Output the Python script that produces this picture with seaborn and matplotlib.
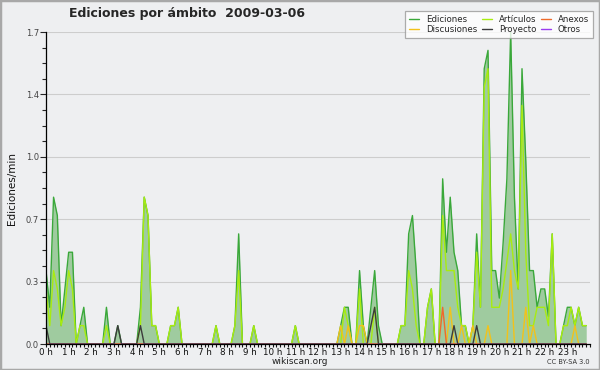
import numpy as np
import pandas as pd
import matplotlib
matplotlib.use("Agg")
import matplotlib.pyplot as plt
from matplotlib.patches import Rectangle
from matplotlib.ticker import MultipleLocator, FixedLocator
import seaborn as sns

# ---- data: edits per minute, one value per 10-minute slot (144 slots) ----
n_slots = 144
ediciones_pts = {0: 0.4, 1: 0.2, 2: 0.8, 3: 0.7, 4: 0.1, 5: 0.3, 6: 0.5, 7: 0.5, 9: 0.1, 10: 0.2,
                 16: 0.2, 19: 0.1, 25: 0.2, 26: 0.8, 27: 0.7, 28: 0.1, 29: 0.1, 33: 0.1, 34: 0.1,
                 35: 0.2, 45: 0.1, 50: 0.1, 51: 0.6, 55: 0.1, 66: 0.1, 78: 0.1, 79: 0.2, 80: 0.2,
                 83: 0.4, 84: 0.1, 86: 0.2, 87: 0.4, 88: 0.1, 94: 0.1, 95: 0.1, 96: 0.6, 97: 0.7,
                 98: 0.4, 101: 0.2, 102: 0.3, 105: 0.9, 106: 0.5, 107: 0.8, 108: 0.5, 109: 0.4,
                 110: 0.1, 111: 0.1, 113: 0.1, 114: 0.6, 115: 0.2, 116: 1.5, 117: 1.6, 118: 0.4,
                 119: 0.4, 120: 0.25, 121: 0.55, 122: 0.9, 123: 1.7, 124: 0.8, 125: 0.3, 126: 1.5,
                 127: 1.0, 128: 0.4, 129: 0.4, 130: 0.2, 131: 0.3, 132: 0.3, 133: 0.15, 134: 0.6,
                 137: 0.1, 138: 0.2, 139: 0.2, 140: 0.1, 141: 0.2, 142: 0.1, 143: 0.1}
articulos_pts = {0: 0.3, 1: 0.1, 2: 0.4, 3: 0.3, 4: 0.1, 5: 0.2, 6: 0.4, 7: 0.3, 9: 0.1, 10: 0.1,
                 16: 0.1, 25: 0.1, 26: 0.8, 27: 0.7, 28: 0.1, 29: 0.1, 33: 0.1, 34: 0.1, 35: 0.2,
                 45: 0.1, 50: 0.1, 51: 0.4, 55: 0.1, 66: 0.1, 79: 0.2, 80: 0.1, 83: 0.3, 87: 0.2,
                 94: 0.1, 95: 0.1, 96: 0.4, 97: 0.3, 98: 0.1, 101: 0.2, 102: 0.3, 105: 0.7,
                 106: 0.4, 107: 0.4, 108: 0.4, 109: 0.2, 110: 0.1, 111: 0.1, 113: 0.1, 114: 0.5,
                 115: 0.2, 116: 1.4, 117: 1.5, 118: 0.2, 119: 0.2, 120: 0.2, 121: 0.3, 122: 0.45,
                 123: 0.6, 124: 0.4, 125: 0.3, 126: 1.3, 127: 0.5, 128: 0.1, 129: 0.1, 130: 0.2,
                 131: 0.2, 132: 0.2, 133: 0.1, 134: 0.6, 137: 0.1, 138: 0.1, 139: 0.2, 140: 0.1,
                 141: 0.2, 142: 0.1, 143: 0.1}
discusiones_pts = {78: 0.1, 80: 0.1, 83: 0.1, 84: 0.1, 107: 0.2, 110: 0.1, 113: 0.1, 117: 0.1,
                   123: 0.4, 127: 0.2, 129: 0.1, 140: 0.1}
anexos_pts = {105: 0.2}
proyecto_pts = {0: 0.1, 19: 0.1, 25: 0.1, 86: 0.1, 87: 0.2, 108: 0.1, 114: 0.1}
otros_pts = {}

hour_labels = [f"{h} h" for h in range(24)]
y_ticks = [0.0, 0.34, 0.68, 1.02, 1.36, 1.7]
y_tick_labels = ["0.0", "0.3", "0.7", "1.0", "1.4", "1.7"]

series_names = ["Ediciones", "Discusiones", "Artículos", "Proyecto", "Anexos", "Otros"]
series_pts = [ediciones_pts, discusiones_pts, articulos_pts, proyecto_pts, anexos_pts, otros_pts]
colors = {"Ediciones": "#3aa83a", "Artículos": "#a8ec10", "Discusiones": "#f2c21a",
          "Anexos": "#ee6a2a", "Proyecto": "#3c3c3c", "Otros": "#9a3cf0"}

def expand(pts):
    arr = np.zeros(n_slots)
    for k, v in pts.items():
        arr[k] = v
    return arr

hours = np.arange(n_slots) / 6.0
df = pd.DataFrame({"hora": hours})
for name, pts in zip(series_names, series_pts):
    df[name] = expand(pts)

# ---- style ----
bg = "#eeeff1"
sns.set_style("ticks", {"axes.facecolor": bg, "figure.facecolor": bg})
plt.rcParams["font.family"] = ["DejaVu Sans"]

fig = plt.figure(figsize=(6.0, 3.7), dpi=100)
ax = fig.add_axes([46 / 600, 1 - 344 / 370, 544 / 600, 312 / 370])
ax.set_facecolor(bg)

ax.fill_between(df["hora"], 0, df["Ediciones"], color="#9fcb9f", lw=0, zorder=1)
draw_order = ["Ediciones", "Artículos", "Discusiones", "Anexos", "Proyecto", "Otros"]
for name in draw_order:
    sns.lineplot(data=df, x="hora", y=name, ax=ax, color=colors[name], lw=1.0,
                 label=name, legend=False, zorder=2)

ax.set_xlim(0, 24)
ax.set_ylim(0, 1.7)
ax.xaxis.set_major_locator(FixedLocator(range(24)))
ax.set_xticklabels(hour_labels)
ax.xaxis.set_minor_locator(MultipleLocator(1 / 6))
ax.yaxis.set_major_locator(FixedLocator(y_ticks))
ax.set_yticklabels(y_tick_labels)
ax.yaxis.set_minor_locator(MultipleLocator(0.085))
ax.tick_params(axis="x", which="both", length=2.3, width=0.8, direction="out",
               labelsize=6.3, pad=0.8, colors="#111111")
ax.tick_params(axis="y", which="major", length=4, width=0.8, labelsize=6, pad=1,
               labelcolor="#444444")
ax.tick_params(axis="y", which="minor", length=3, width=0.8)
ax.grid(axis="y", which="major", color="#cdcdcd", lw=0.8, zorder=0)
ax.set_axisbelow(True)
for s in ["top", "right"]:
    ax.spines[s].set_visible(False)
for s in ["left", "bottom"]:
    ax.spines[s].set_color("black")
    ax.spines[s].set_linewidth(0.9)
ax.set_xlabel("")
ax.set_ylabel("Ediciones/min", fontsize=7.5, labelpad=6, color="#111111")

fig.text(187 / 600, 1 - 14 / 370, "Ediciones por ámbito  2009-03-06", fontsize=9,
         fontweight="bold", ha="center", va="center")

handles, labels = ax.get_legend_handles_labels()
hmap = dict(zip(labels, handles))
leg = fig.legend([hmap[n] for n in series_names], series_names, ncol=3,
                 loc="upper right", bbox_to_anchor=(593 / 600, 1 - 11 / 370),
                 fontsize=6.2, frameon=True, fancybox=False, handlelength=1.2,
                 handletextpad=0.8, columnspacing=0.5, labelspacing=0.1,
                 borderpad=0.45, borderaxespad=0)
leg.get_frame().set_facecolor("white")
leg.get_frame().set_edgecolor("#999999")
leg.get_frame().set_linewidth(0.9)

fig.text(0.5, 1 - 361 / 370, "wikiscan.org", ha="center", va="center", fontsize=6.5,
         color="#222222")
fig.text(590 / 600, 1 - 362 / 370, "CC BY-SA 3.0", ha="right", va="center", fontsize=4.8,
         color="#333333")

fig.patches.append(Rectangle((0, 0), 1, 1, transform=fig.transFigure, fill=False,
                             edgecolor="#a8a8a8", lw=2.5))

fig.savefig("out.png", dpi=100, facecolor=bg)
